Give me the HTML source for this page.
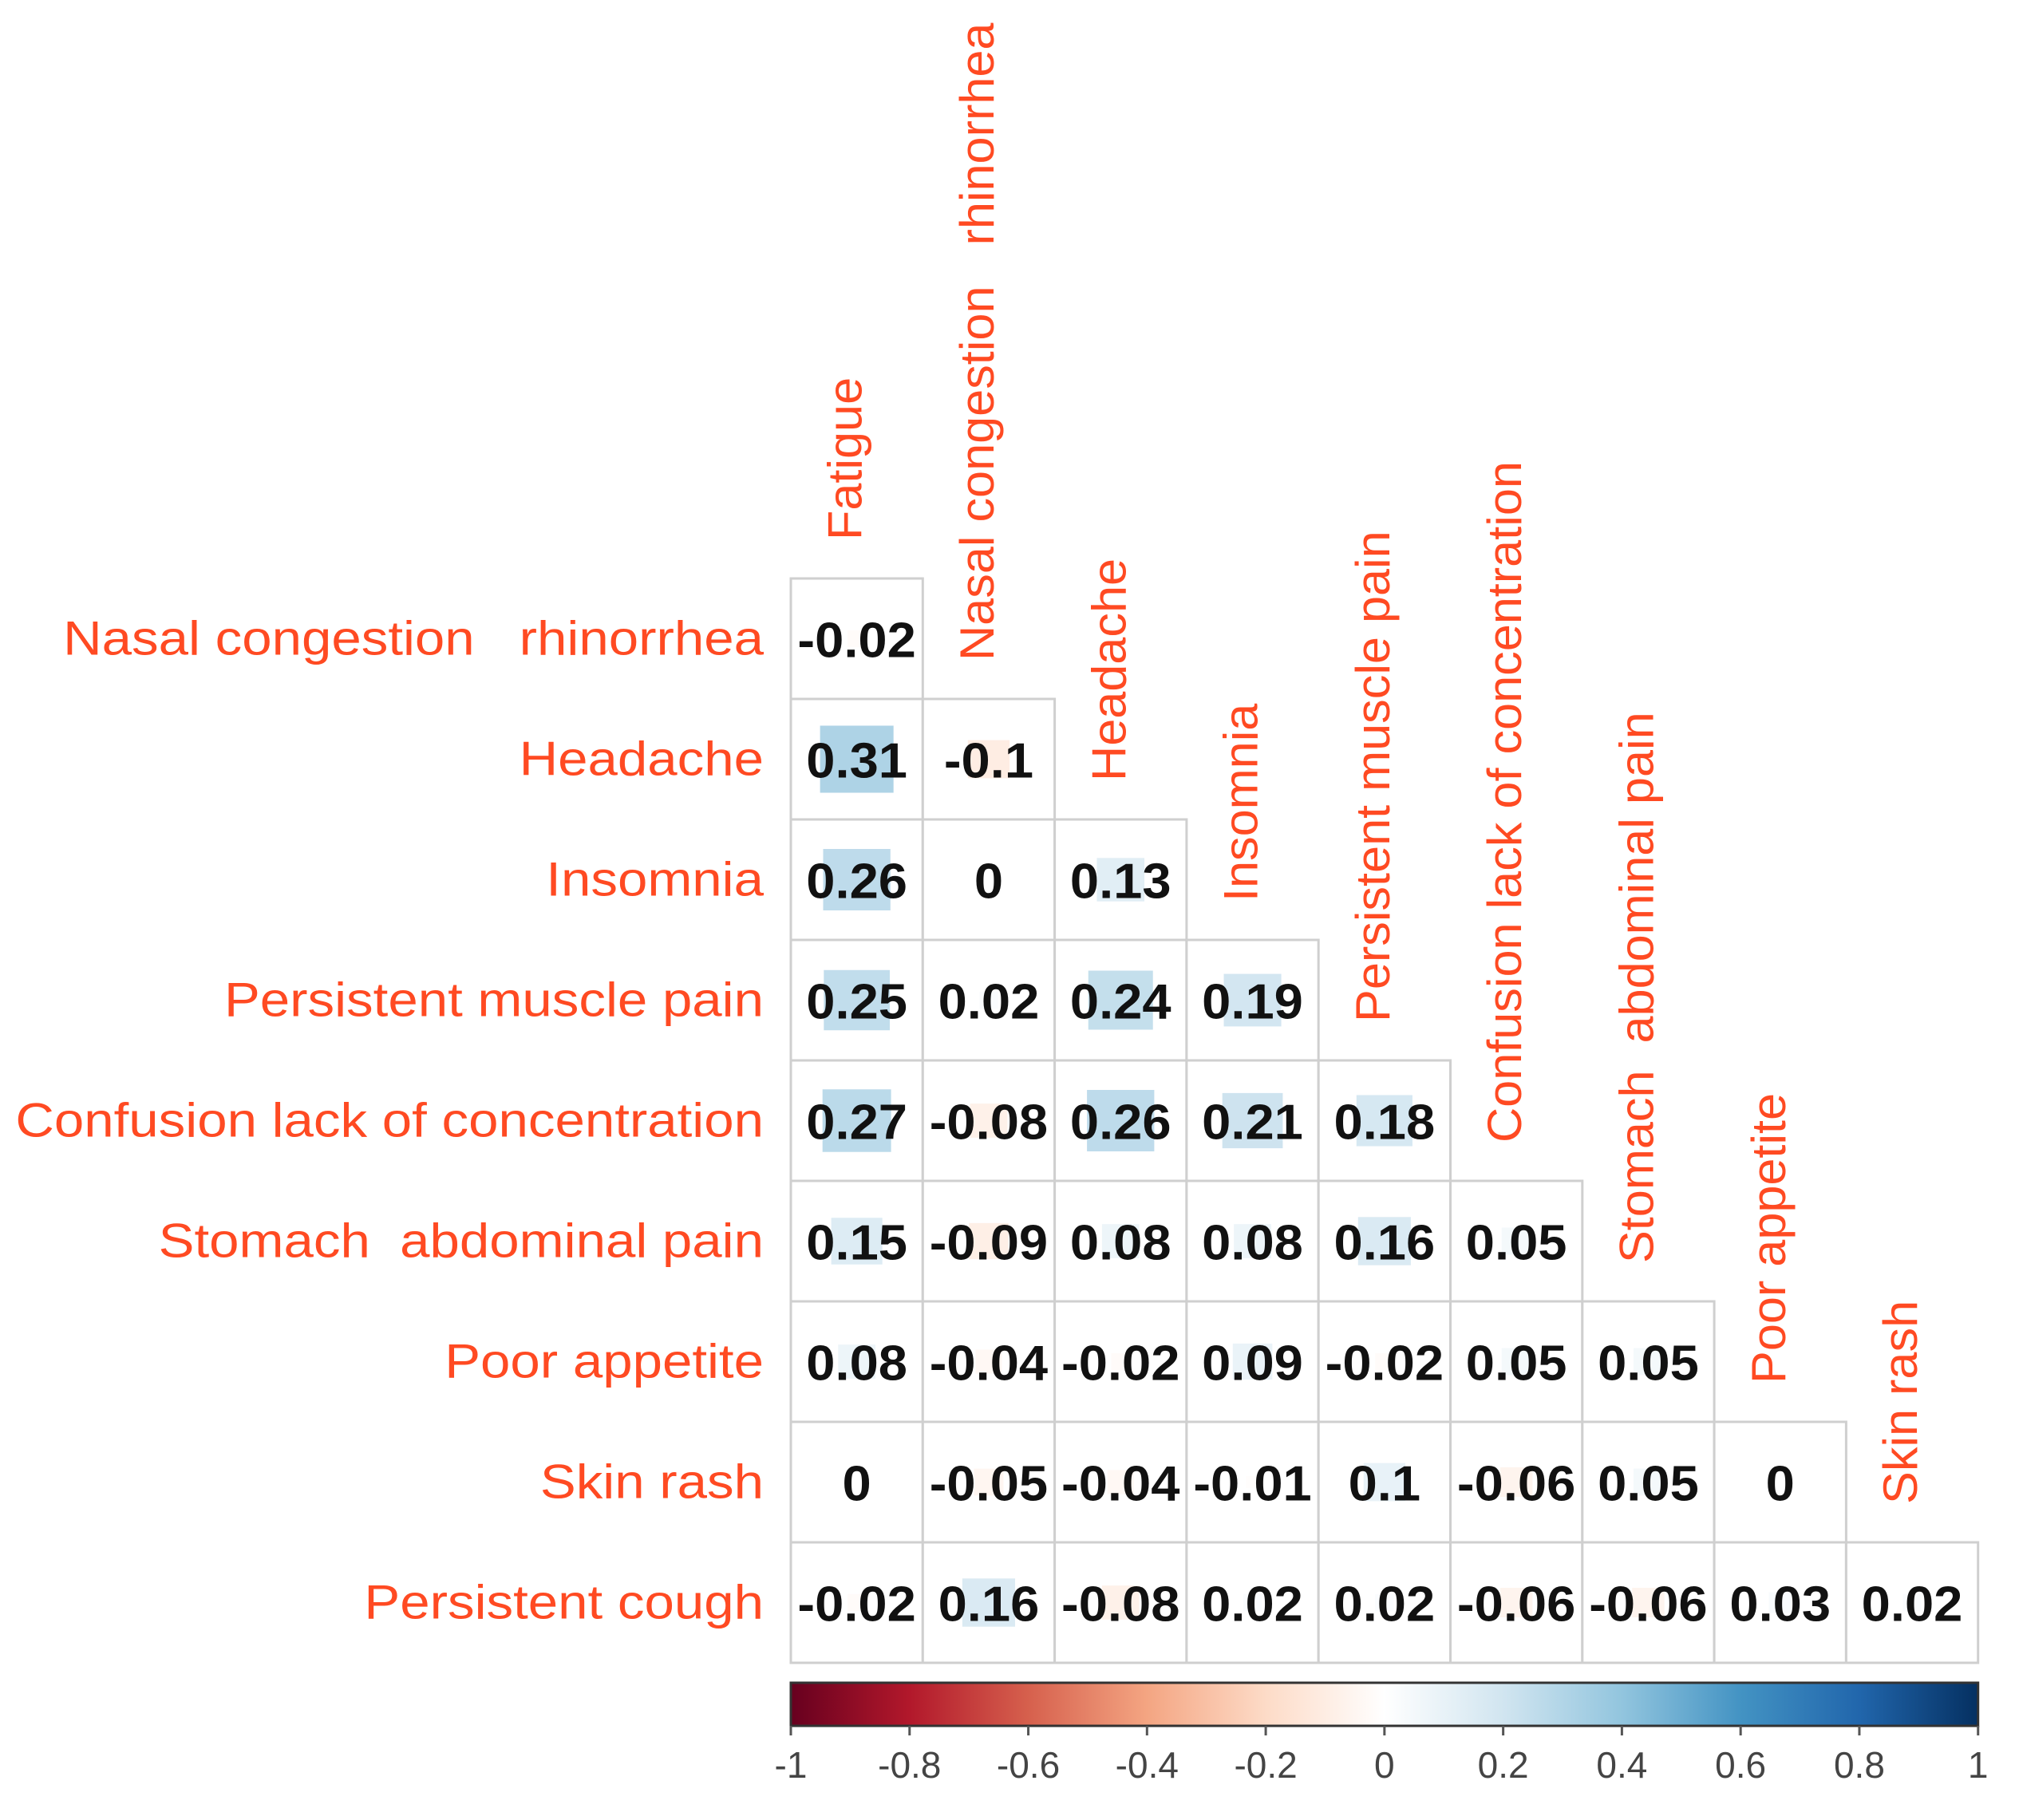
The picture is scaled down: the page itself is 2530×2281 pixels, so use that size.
<!DOCTYPE html>
<html><head><meta charset="utf-8"><style>
html,body{margin:0;padding:0;background:#fff}
svg{display:block}
text{font-family:"Liberation Sans",sans-serif;white-space:pre}
</style></head><body>
<svg id="chart" width="2530" height="2281" viewBox="0 0 2530 2281" xmlns="http://www.w3.org/2000/svg">
<defs>
<linearGradient id="rdbu" x1="0" x2="1" y1="0" y2="0">
<stop offset="0" stop-color="#67001F"/><stop offset="0.1" stop-color="#B2182B"/><stop offset="0.2" stop-color="#D6604D"/><stop offset="0.3" stop-color="#F4A582"/><stop offset="0.4" stop-color="#FDDBC7"/><stop offset="0.5" stop-color="#FFFFFF"/><stop offset="0.6" stop-color="#D1E5F0"/><stop offset="0.7" stop-color="#92C5DE"/><stop offset="0.8" stop-color="#4393C3"/><stop offset="0.9" stop-color="#2166AC"/><stop offset="1" stop-color="#053061"/>
</linearGradient>
</defs>
<g id="cells"></g>
<g id="labels"></g>
<g id="legend"></g>
</svg>
<script>
const rowNames = ["Nasal congestion   rhinorrhea","Headache","Insomnia","Persistent muscle pain","Confusion lack of concentration","Stomach  abdominal pain","Poor appetite","Skin rash","Persistent cough"];
const colNames = ["Fatigue","Nasal congestion   rhinorrhea","Headache","Insomnia","Persistent muscle pain","Confusion lack of concentration","Stomach  abdominal pain","Poor appetite","Skin rash"];
const r0 = [-0.02];
const r1 = [0.31,-0.1];
const r2 = [0.26,0,0.13];
const r3 = [0.25,0.02,0.24,0.19];
const r4 = [0.27,-0.08,0.26,0.21,0.18];
const r5 = [0.15,-0.09,0.08,0.08,0.16,0.05];
const r6 = [0.08,-0.04,-0.02,0.09,-0.02,0.05,0.05];
const r7 = [0,-0.05,-0.04,-0.01,0.1,-0.06,0.05,0];
const r8 = [-0.02,0.16,-0.08,0.02,0.02,-0.06,-0.06,0.03,0.02];
const corr = [r0,r1,r2,r3,r4,r5,r6,r7,r8];
const ticks = [-1,-0.8,-0.6,-0.4,-0.2,0,0.2,0.4,0.6,0.8,1];

const NS="http://www.w3.org/2000/svg";
const X0=991, CW=165.3, Y0=725, RH=151;
const colX = j => X0 + j*CW;
const rowY = i => Y0 + i*RH;
const pal=["#67001F","#B2182B","#D6604D","#F4A582","#FDDBC7","#FFFFFF","#D1E5F0","#92C5DE","#4393C3","#2166AC","#053061"];
function hex(h){return [1,3,5].map(k=>parseInt(h.substr(k,2),16));}
function colorOf(v){
  const t=(v+1)/2*10; const i=Math.min(9,Math.floor(t)); const f=t-i;
  const a=hex(pal[i]), b=hex(pal[i+1]);
  return "rgb("+a.map((c,k)=>Math.round(c+(b[k]-c)*f)).join(",")+")";
}
function mk(tag,attrs,parent){const e=document.createElementNS(NS,tag);for(const k in attrs)e.setAttribute(k,attrs[k]);parent.appendChild(e);return e;}
function stretch(t,f){const w=t.getComputedTextLength();if(w>0){t.setAttribute('textLength',w*f);t.setAttribute('lengthAdjust','spacingAndGlyphs');}}
const cells=document.getElementById('cells'), labels=document.getElementById('labels'), legend=document.getElementById('legend');

corr.forEach((row,i)=>{
  row.forEach((v,j)=>{
    const x=colX(j), y=rowY(i);
    const bg=mk('rect',{x:x,y:y,width:CW,height:RH,fill:'#fff',stroke:'#cfcfcf','stroke-width':3},cells);
    
    
    const s=Math.sqrt(Math.abs(v));
    if(s>0){
      const sq=mk('rect',{x:x+CW/2-s*CW/2,y:y+RH/2-s*RH/2,width:s*CW,height:s*RH,fill:colorOf(v)},cells);
      
      
    }
    const t=mk('text',{x:x+CW/2,y:y+RH/2+23,'text-anchor':'middle','font-size':62,'font-weight':'bold',fill:'#111'},cells);
    t.textContent=String(v);
    
    
    stretch(t,1.05);
  });
});
rowNames.forEach((n,i)=>{
  const t=mk('text',{x:957,y:rowY(i)+RH/2+20,'text-anchor':'end','font-size':60,fill:'#ff4a22'},labels);
  t.textContent=n;
  
  
  stretch(t,1.12);
});
colNames.forEach((n,j)=>{
  const cx=colX(j)+CW/2+6, y=rowY(j)-48;
  const t=mk('text',{x:cx,y:y,'text-anchor':'start','font-size':60,fill:'#ff4a22',transform:'rotate(-90 '+cx+' '+y+')'},labels);
  t.textContent=n;
  
  
  stretch(t,1.02);
});
const LX0=X0, LX1=X0+9*CW, LY=2109, LH=54;
const bar=mk('rect',{x:LX0,y:LY,width:LX1-LX0,height:LH,fill:'url(#rdbu)',stroke:'#333','stroke-width':3},legend);


const lx=v=>LX0+(v+1)/2*(LX1-LX0);
ticks.forEach((v,k)=>{
  const tk=mk('line',{x1:lx(v),x2:lx(v),y1:LY+LH,y2:LY+LH+12,stroke:'#555','stroke-width':3},legend);
  
  
  const t=mk('text',{x:lx(v),y:2228,'text-anchor':'middle','font-size':46,fill:'#444'},legend);
  t.textContent=String(v);
  
  
});
</script>
</body></html>
